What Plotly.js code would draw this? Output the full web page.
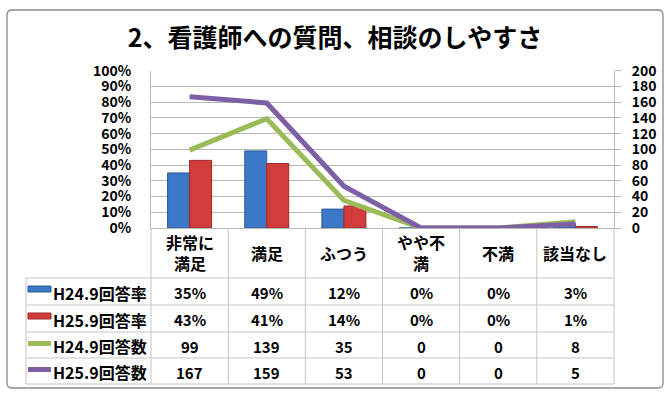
<!DOCTYPE html>
<html>
<head>
<meta charset="utf-8">
<script src="https://cdn.plot.ly/plotly-3.0.1.min.js"></script>
<style>html,body{margin:0;padding:0;background:#fff;}#chart{width:670px;height:400px;}</style>
</head>
<body>
<div id="chart"></div>
<script>
// ---- data ----
const chartTitle = "2、看護師への質問、相談のしやすさ";
const categories = ["非常に<br>満足", "満足", "ふつう", "やや不<br>満", "不満", "該当なし"];
const seriesNames = ["H24.9回答率", "H25.9回答率", "H24.9回答数", "H25.9回答数"];
const h24Rate = [0.35, 0.49, 0.12, 0.00, 0.00, 0.03];
const h25Rate = [0.43, 0.41, 0.14, 0.00, 0.00, 0.01];
const h24Count = [99, 139, 35, 0, 0, 8];
const h25Count = [167, 159, 53, 0, 0, 5];

// ---- styles ----
const FONT = "'Noto Sans CJK JP', 'Noto Sans', sans-serif";
const colors = {blue: "#3c78c6", blueEdge: "#2a5a9c", red: "#d23d3b", redEdge: "#9c2b2a", green: "#9bbb59", purple: "#7d5fa6"};
const W = 670, H = 400;
const X = px => px / W;
const Y = py => 1 - py / H;
const plotL = 151, plotR = 614, plotT = 70.7, plotB = 228;
const catW = (plotR - plotL) / categories.length;
const tableL = 26;
const rowLines = [278, 305, 332, 358, 384];
const gridCol = "#b8b8b8";

const x = categories.map((c, i) => i);

const traces = [
  {type: "bar", x: x, y: h24Rate, name: seriesNames[0], marker: {color: colors.blue, line: {color: colors.blueEdge, width: 1}}, hoverinfo: "skip"},
  {type: "bar", x: x, y: h25Rate, name: seriesNames[1], marker: {color: colors.red, line: {color: colors.redEdge, width: 1}}, hoverinfo: "skip"},
  {type: "scatter", mode: "lines", x: x, y: h24Count, yaxis: "y2", name: seriesNames[2], line: {color: colors.green, width: 5}, hoverinfo: "skip"},
  {type: "scatter", mode: "lines", x: x, y: h25Count, yaxis: "y2", name: seriesNames[3], line: {color: colors.purple, width: 5}, hoverinfo: "skip"}
];

const shapes = [];
const annotations = [];
const line = (x0, y0, x1, y1, color, width) => shapes.push({type: "line", xref: "paper", yref: "paper", x0: X(x0), y0: Y(y0), x1: X(x1), y1: Y(y1), line: {color: color, width: width}});

// outer border (rounded)
(function () {
  const l = 7, r = 663, t = 10, b = 388, rr = 5;
  const p = (a, c) => X(a) + "," + Y(c);
  shapes.push({type: "path", xref: "paper", yref: "paper",
    path: "M" + p(l + rr, t) + " L" + p(r - rr, t) + " Q" + p(r, t) + " " + p(r, t + rr) +
      " L" + p(r, b - rr) + " Q" + p(r, b) + " " + p(r - rr, b) +
      " L" + p(l + rr, b) + " Q" + p(l, b) + " " + p(l, b - rr) +
      " L" + p(l, t + rr) + " Q" + p(l, t) + " " + p(l + rr, t) + " Z",
    line: {color: "#8a8a8a", width: 1.3}, fillcolor: "rgba(0,0,0,0)"});
})();

// table grid
rowLines.forEach(yy => line(tableL, yy, plotR, yy, "#c4c4c4", 1));
for (let i = 0; i <= categories.length; i++) line(plotL + i * catW, plotB, plotL + i * catW, rowLines[rowLines.length - 1], "#c4c4c4", 1);
line(tableL, rowLines[0], tableL, rowLines[rowLines.length - 1], "#c4c4c4", 1);

const tfont = {family: FONT, size: 16, color: "#000", weight: "bold"};
// category labels
categories.forEach((c, i) => annotations.push({xref: "paper", yref: "paper", x: X(plotL + (i + 0.5) * catW), y: Y((plotB + rowLines[0]) / 2), text: c, showarrow: false, xanchor: "center", yanchor: "middle", font: tfont, align: "center"}));

const pct = v => Math.round(v * 100) + "%";
const rows = [h24Rate.map(pct), h25Rate.map(pct), h24Count.map(String), h25Count.map(String)];
const keyColor = [colors.blue, colors.red, colors.green, colors.purple];
const keyEdge = [colors.blueEdge, colors.redEdge, colors.green, colors.purple];
rows.forEach((vals, r) => {
  const yc = (rowLines[r] + rowLines[r + 1]) / 2;
  vals.forEach((v, i) => annotations.push({xref: "paper", yref: "paper", x: X(plotL + (i + 0.5) * catW), y: Y(yc + 1), text: v, showarrow: false, xanchor: "center", yanchor: "middle", font: {family: FONT, size: 15, color: "#000", weight: "bold"}}));
  annotations.push({xref: "paper", yref: "paper", x: X(51), y: Y(yc + 1), text: seriesNames[r], showarrow: false, xanchor: "left", yanchor: "middle", font: tfont});
  if (r < 2) {
    shapes.push({type: "rect", xref: "paper", yref: "paper", x0: X(28), x1: X(51), y0: Y(yc - 5.5), y1: Y(yc + 0.5), fillcolor: keyColor[r], line: {color: keyEdge[r], width: 1}});
  } else {
    line(28, yc - 1.5, 51, yc - 1.5, keyColor[r], 5);
  }
});

const tickFont = {family: FONT, size: 14, color: "#000", weight: "bold"};
const layout = {
  width: W, height: H,
  margin: {l: 0, r: 0, t: 0, b: 0},
  paper_bgcolor: "#fff", plot_bgcolor: "rgba(0,0,0,0)",
  showlegend: false,
  title: {text: chartTitle, x: 0.5, xanchor: "center", y: Y(38), yanchor: "middle", font: {family: FONT, size: 25, color: "#000", weight: "bold"}},
  barmode: "group", bargap: 0.43, bargroupgap: 0,
  xaxis: {domain: [X(plotL), X(plotR)], range: [-0.5, categories.length - 0.5], showticklabels: false, ticks: "", showgrid: false, zeroline: false, showline: true, linecolor: gridCol, linewidth: 1, fixedrange: true},
  yaxis: {domain: [Y(plotB), Y(plotT)], range: [0, 1], dtick: 0.1, tickformat: ".0%", showgrid: true, gridcolor: gridCol, gridwidth: 1, zeroline: false, showline: true, linecolor: gridCol, ticks: "", ticklabelstandoff: 16, tickfont: tickFont, fixedrange: true},
  yaxis2: {overlaying: "y", side: "right", range: [0, 200], dtick: 20, showgrid: false, zeroline: false, showline: true, linecolor: gridCol, ticks: "outside", ticklen: 6, tickcolor: gridCol, ticklabelstandoff: 8, tickfont: tickFont, fixedrange: true},
  shapes: shapes,
  annotations: annotations
};

Plotly.newPlot("chart", traces, layout, {staticPlot: true, displayModeBar: false});
</script>
</body>
</html>
